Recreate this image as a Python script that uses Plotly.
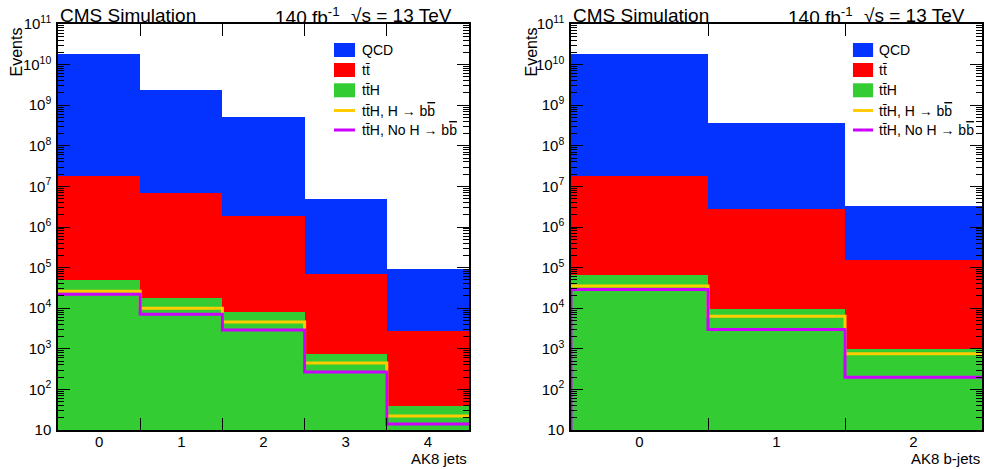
import numpy as np
import plotly.graph_objects as go

# ---- yields per bin ----
jet_labels = ["0", "1", "2", "3", "4"]
qcd_jets = [1.8e10, 2.3e9, 5.2e8, 4.8e6, 8.8e4]
ttbar_jets = [1.79e7, 6.8e6, 1.9e6, 6.8e4, 2.65e3]
tth_jets = [5.0e4, 1.8e4, 7.9e3, 7.6e2, 39]
tth_bb_jets = [2.6e4, 1.0e4, 4.6e3, 4.5e2, 22]
tth_nobb_jets = [2.2e4, 7.1e3, 2.9e3, 2.7e2, 14]

bjet_labels = ["0", "1", "2"]
qcd_bjets = [1.8e10, 3.57e8, 3.05e6]
ttbar_bjets = [1.79e7, 2.69e6, 1.54e5]
tth_bjets = [6.7e4, 9.7e3, 1.0e3]
tth_bb_bjets = [3.5e4, 6.3e3, 7.6e2]
tth_nobb_bjets = [2.9e4, 3.0e3, 2.0e2]

BBAR = "b<span style='text-decoration:overline'>b</span>"
legend_labels = ["QCD", "tt\u0304", "tt\u0304H", "tt\u0304H, H \u2192 " + BBAR, "tt\u0304H, No H \u2192 " + BBAR]

C_QCD, C_TT, C_TTH, C_BB, C_NOBB = "#0433ff", "#ff0000", "#33cc33", "#ffcc00", "#cc00ff"
FONT = "Liberation Sans, Arial, Helvetica, sans-serif"
YMIN_EXP, YMAX_EXP = 1, 11

fig = go.Figure()


def add_panel(fig, xa, ya, labels, qcd, ttbar, tth, tth_bb, tth_nobb, drop_first=False):
    n = len(labels)
    centers = np.arange(n)
    edges = np.arange(n + 1) - 0.5
    s_tth = np.array(tth, float)
    s_tt = s_tth + np.array(ttbar, float)
    s_qcd = s_tt + np.array(qcd, float)
    for tot, col in [(s_qcd, C_QCD), (s_tt, C_TT), (s_tth, C_TTH)]:
        fig.add_trace(go.Bar(x=centers, y=tot, width=1.0, marker=dict(color=col, line=dict(width=0)),
                             xaxis=xa, yaxis=ya, showlegend=False, hoverinfo="skip"))
    for vals, col, drop in [(tth_bb, C_BB, False), (tth_nobb, C_NOBB, drop_first)]:
        xs = list(edges[:-1]) + [edges[-1]]
        ys = list(vals) + [vals[-1]]
        if drop:
            xs = [edges[0]] + xs
            ys = [10 ** YMIN_EXP] + ys
        fig.add_trace(go.Scatter(x=xs, y=ys, mode="lines", line=dict(color=col, width=3, shape="hv"),
                                 xaxis=xa, yaxis=ya, showlegend=False, hoverinfo="skip"))
    return edges


e1 = add_panel(fig, "x", "y", jet_labels, qcd_jets, ttbar_jets, tth_jets, tth_bb_jets, tth_nobb_jets)
e2 = add_panel(fig, "x2", "y2", bjet_labels, qcd_bjets, ttbar_bjets, tth_bjets, tth_bb_bjets, tth_nobb_bjets,
               drop_first=True)

W, H = 984, 469
PT, PB = 24, 430
dom1 = [58 / W, 469 / W]
dom2 = [571 / W, 982 / W]
ydom = [1 - PB / H, 1 - PT / H]

ytickvals = [10 ** k for k in range(YMIN_EXP, YMAX_EXP + 1)]
yticktext = ["10"] + [f"10<sup>{k}</sup>" for k in range(2, YMAX_EXP + 1)]
yminor = [m * 10 ** k for k in range(YMIN_EXP, YMAX_EXP) for m in range(2, 10)]


def yaxis_cfg(domain, anchor):
    return dict(type="log", range=[YMIN_EXP, YMAX_EXP], domain=domain, anchor=anchor, automargin=False,
                tickmode="array", tickvals=ytickvals, ticktext=yticktext, ticks="inside", ticklen=12,
                tickwidth=1, tickcolor="black", mirror="allticks", showline=True, linecolor="black",
                linewidth=1.5, showgrid=False, zeroline=False,
                tickfont=dict(family=FONT, size=15, color="black"),
                minor=dict(tickmode="array", tickvals=yminor, ticks="inside", ticklen=6, tickwidth=1,
                           tickcolor="black", showgrid=False),
                ticklabelstandoff=2)


def xaxis_cfg(domain, anchor, labels, edges):
    n = len(labels)
    return dict(range=[edges[0], edges[-1]], domain=domain, anchor=anchor, automargin=False,
                tickmode="array", tickvals=list(range(n)), ticktext=labels, ticks="", ticklen=0,
                mirror="allticks", showline=True, linecolor="black", linewidth=1.5, showgrid=False,
                zeroline=False, tickfont=dict(family=FONT, size=15, color="black"), ticklabelstandoff=-3,
                minor=dict(tickmode="array", tickvals=list(edges[1:-1]), ticks="inside", ticklen=12,
                           tickwidth=1, tickcolor="black", showgrid=False))


fig.update_layout(
    template="none",
    width=W, height=H, margin=dict(l=0, r=0, t=0, b=0, autoexpand=False),
    paper_bgcolor="white", plot_bgcolor="white",
    barmode="overlay", bargap=0, showlegend=False,
    xaxis=xaxis_cfg(dom1, "y", jet_labels, e1), yaxis=yaxis_cfg(ydom, "x"),
    xaxis2=xaxis_cfg(dom2, "y2", bjet_labels, e2), yaxis2=yaxis_cfg(ydom, "x2"),
)

annos = []
shapes = []
for dom, xref, xtitle, lx0, lx1, ltx, ev_x in [
    (dom1, "x domain", "AK8 jets", 0.6715, 0.7226, 0.7348, 16),
    (dom2, "x2 domain", "AK8 b-jets", 0.686, 0.735, 0.745, 531),
]:
    left_px, right_px = dom[0] * W, dom[1] * W
    annos.append(dict(text="CMS Simulation", x=left_px / W, y=1 - 16 / H, xref="paper", yref="paper",
                      xanchor="left", yanchor="middle", showarrow=False,
                      font=dict(family=FONT, size=19, color="black")))
    annos.append(dict(text="140 fb<sup>-1</sup>", x=(right_px - 196) / W, y=1 - 16 / H, xref="paper",
                      yref="paper", xanchor="left", yanchor="middle", showarrow=False,
                      font=dict(family=FONT, size=19, color="black")))
    annos.append(dict(text="\u221as = 13 TeV", x=(right_px - 15) / W, y=1 - 16 / H, xref="paper",
                      yref="paper", xanchor="right", yanchor="middle", showarrow=False,
                      font=dict(family=FONT, size=19, color="black")))
    annos.append(dict(text=xtitle, x=right_px / W, y=1 - 458 / H, xref="paper", yref="paper",
                      xanchor="right", yanchor="middle", showarrow=False,
                      font=dict(family=FONT, size=15, color="black")))
    annos.append(dict(text="Events", x=ev_x / W, y=1 - 26 / H, xref="paper", yref="paper",
                      xanchor="center", yanchor="top", textangle=-90, showarrow=False,
                      font=dict(family=FONT, size=16, color="black")))
    # legend
    row_px = [50, 70, 90.3, 110.5, 130]
    kinds = [("box", C_QCD), ("box", C_TT), ("box", C_TTH), ("line", C_BB), ("line", C_NOBB)]
    for (kind, col), lab, rp in zip(kinds, legend_labels, row_px):
        if kind == "box":
            shapes.append(dict(type="rect", xref=xref, yref="paper", x0=lx0, x1=lx1,
                               y0=1 - (rp + 7) / H, y1=1 - (rp - 7) / H, fillcolor=col, line=dict(width=0)))
        else:
            shapes.append(dict(type="line", xref=xref, yref="paper", x0=lx0, x1=lx1,
                               y0=1 - rp / H, y1=1 - rp / H, line=dict(color=col, width=3)))
        annos.append(dict(text=lab, x=ltx, y=1 - rp / H, xref=xref, yref="paper", xanchor="left",
                          yanchor="middle", showarrow=False, font=dict(family=FONT, size=14, color="black")))

fig.update_layout(annotations=annos, shapes=shapes)
fig.write_html("out.html")
